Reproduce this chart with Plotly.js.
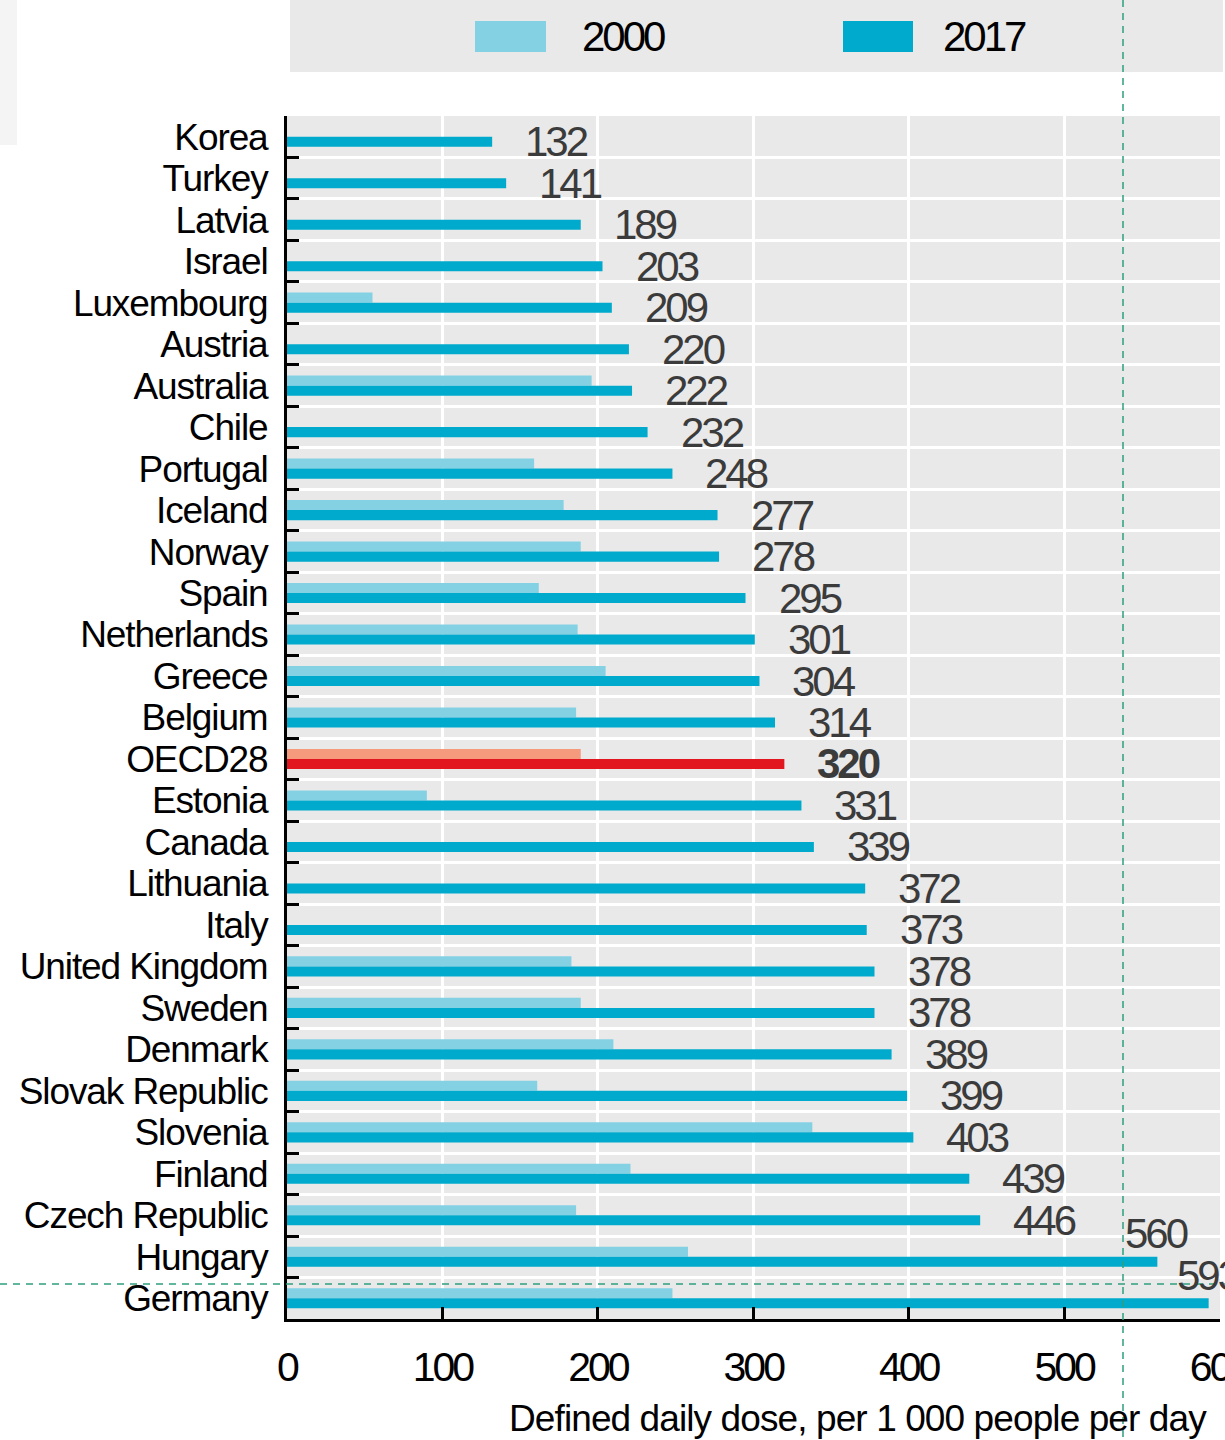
<!DOCTYPE html>
<html><head><meta charset="utf-8">
<script src="https://cdn.plot.ly/plotly-3.0.1.min.js"></script>
<style>
html,body{margin:0;padding:0;background:#fff}
#chart{width:1225px;height:1440px}
.ytick text{letter-spacing:-1.1px}
.xtick text{letter-spacing:-3px}
</style></head><body><div id="chart"></div>
<script>
const countries = ['Korea','Turkey','Latvia','Israel','Luxembourg','Austria','Australia','Chile','Portugal','Iceland','Norway','Spain','Netherlands','Greece','Belgium','OECD28','Estonia','Canada','Lithuania','Italy','United Kingdom','Sweden','Denmark','Slovak Republic','Slovenia','Finland','Czech Republic','Hungary','Germany'];
const v2000 = [null,null,null,null,55,null,196,null,159,178,189,162,187,205,186,189,90,null,null,null,183,189,210,161,338,221,186,258,248];
const v2017 = [132,141,189,203,209,220,222,232,248,277,278,295,301,304,314,320,331,339,372,373,378,378,389,399,403,439,446,560,593];
const xTicks = [0,100,200,300,400,500,600];
const seriesNames = ['2000','2017'];
const xTitle = 'Defined daily dose, per 1 000 people per day';
const highlight = 'OECD28';

const C2000 = '#85d1e4', C2017 = '#00aacd', H2000 = '#f59a7c', H2017 = '#e1161f';
const FONT = 'Liberation Sans, Arial, sans-serif';

const W=1225,H=1440,L=287,R=5,T=116,B=121;
const pw=W-L-R, ph=H-T-B;
const px2x = p => (p-L)/pw;
const py2y = p => (H-B-p)/ph;

const traces = [
  {type:'bar', orientation:'h', name:seriesNames[0], y:countries, x:v2000,
   marker:{color:countries.map(c=>c===highlight?H2000:C2000)}, hoverinfo:'x+y'},
  {type:'bar', orientation:'h', name:seriesNames[1], y:countries, x:v2017,
   marker:{color:countries.map(c=>c===highlight?H2017:C2017)}, hoverinfo:'x+y'}
];

const ls = (t,s) => '<span style="letter-spacing:'+s+'px">'+t+'</span>';

const annotations = v2017.map((v,i)=>{
  const far = v > 500;
  const txt = countries[i]===highlight ? '<b>'+v+'</b>' : String(v);
  return {x:v, y:countries[i], xref:'x', yref:'y', text:ls(txt,-3), showarrow:false,
    xanchor:'left', yanchor:'middle', xshift: far? -34 : 31, yshift: far? 23 : -5,
    font:{family:FONT, size:42, color:'#3b3b3b'}};
});
annotations.push({xref:'paper', yref:'paper', x:px2x(1209), y:py2y(1418), xanchor:'right', yanchor:'middle',
  text:ls(xTitle,-0.9), showarrow:false, font:{family:FONT, size:37, color:'#000'}});
annotations.push({xref:'paper', yref:'paper', x:px2x(580), y:py2y(37), xanchor:'left', yanchor:'middle',
  text:ls(seriesNames[0],-3), showarrow:false, font:{family:FONT, size:42, color:'#000'}});
annotations.push({xref:'paper', yref:'paper', x:px2x(941), y:py2y(37), xanchor:'left', yanchor:'middle',
  text:ls(seriesNames[1],-3), showarrow:false, font:{family:FONT, size:42, color:'#000'}});

const rect = (x0,y0,x1,y1,color,layer) => ({type:'rect', xref:'paper', yref:'paper',
  x0:px2x(x0), x1:px2x(x1), y0:py2y(y0), y1:py2y(y1), fillcolor:color, line:{width:0}, layer:layer||'above'});

const shapes = [
  rect(290,0,1223,72,'#e9e9e9','below'),
  rect(0,0,17,145,'#f4f4f4','below'),
  rect(475,21,546,52,C2000),
  rect(843,21,913,52,C2017),
  {type:'line', xref:'paper', yref:'paper', x0:px2x(1123), x1:px2x(1123), y0:py2y(0), y1:py2y(1440),
   line:{color:'#2f9e7f', width:1.5, dash:'7px,6px'}, layer:'above'},
  {type:'line', xref:'paper', yref:'paper', x0:px2x(0), x1:px2x(1225), y0:py2y(1284), y1:py2y(1284),
   line:{color:'#2f9e7f', width:1.5, dash:'7px,6px'}, layer:'above'}
];

const layout = {
  width:W, height:H, margin:{l:L, r:R, t:T, b:B, pad:0},
  paper_bgcolor:'#ffffff', plot_bgcolor:'#e9e9e9',
  barmode:'group', bargap:0.515, bargroupgap:0,
  showlegend:false,
  xaxis:{range:[0,600.3], tickmode:'array', tickvals:xTicks, ticktext:xTicks.map(String),
    ticks:'inside', ticklen:12, tickwidth:3, tickcolor:'#000', ticklabeloverflow:'allow',
    showline:true, linewidth:3, linecolor:'#000', showgrid:true, gridcolor:'#ffffff', gridwidth:3,
    zeroline:false, ticklabelstandoff:10, automargin:false,
    tickfont:{family:FONT, size:41, color:'#000'}, fixedrange:true},
  yaxis:{type:'category', range:[countries.length-0.5,-0.5], tickmode:'array', tickvals:countries, ticktext:countries,
    tickson:'boundaries', ticks:'inside', ticklen:12, tickwidth:3,
    tickcolor:'#000', showline:true, linewidth:3, linecolor:'#000', showgrid:true, gridcolor:'#ffffff', gridwidth:3,
    zeroline:false, ticklabelstandoff:9, automargin:false,
    tickfont:{family:FONT, size:37, color:'#000'}, fixedrange:true},
  annotations, shapes
};

Plotly.newPlot('chart', traces, layout, {displayModeBar:false, staticPlot:true});
</script></body></html>
